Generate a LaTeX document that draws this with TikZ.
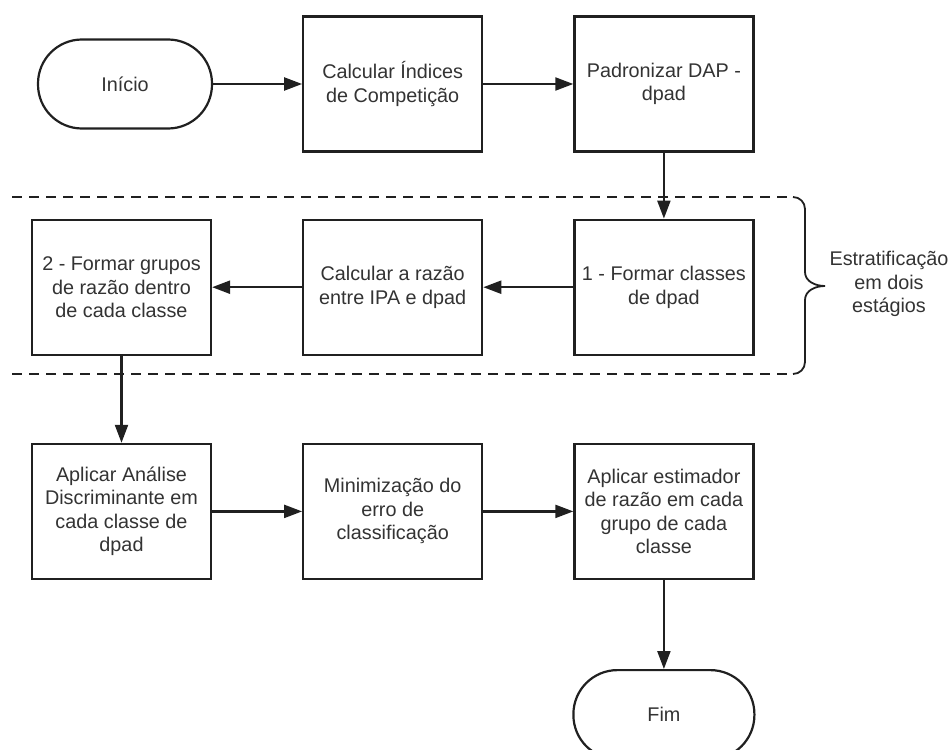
\documentclass[tikz,border=0pt]{standalone}
\usepackage{fontspec}
\setmainfont{Liberation Sans}
\usetikzlibrary{positioning, arrows.meta}
\definecolor{linecol}{HTML}{202020}
\definecolor{textcol}{HTML}{333333}

\begin{document}
\begin{tikzpicture}[x=1pt,y=1pt,>={Triangle[length=18pt,width=13pt]},
  line width=2.2pt,color=linecol,
  box/.style={rectangle,draw=linecol,fill=white,align=center,text=textcol,
    minimum width=179pt,minimum height=135pt,inner sep=2pt,
    font=\fontsize{19.8}{23.5}\selectfont},
  term/.style={box,rounded corners=44pt,minimum height=89pt}]
  \useasboundingbox (0,0) rectangle (952,-749);
  \node[term, minimum width=174pt] (inicio) at (125,-84) {Início};
  \node[box] (calc) [right=89pt of inicio] {Calcular Índices\\de Competição};
  \node[box] (pad) [right=90pt of calc] {Padronizar DAP -\\dpad};
  \node[box] (form1) [below=66pt of pad] {1 - Formar classes\\de dpad};
  \node[box] (razao) [left=90pt of form1] {Calcular a razão\\entre IPA e dpad};
  \node[box] (form2) [left=90pt of razao] {2 - Formar grupos\\de razão dentro\\de cada classe};
  \node[box] (discr) [below=87pt of form2] {Aplicar Análise\\Discriminante em\\cada classe de\\dpad};
  \node[box] (minim) [right=90pt of discr] {Minimização do\\erro de\\classificação};
  \node[box] (estim) [right=90pt of minim] {Aplicar estimador\\de razão em cada\\grupo de cada\\classe};
  \node[term, minimum width=181pt] (fim) [below=89pt of estim] {Fim};
  \node[text=textcol, align=center, font=\fontsize{19.8}{23.5}\selectfont] (estrat) at (889,-284) {Estratificação\\em dois\\estágios};
  % dashed region and brace
  \draw[line width=1.8pt, dash pattern=on 10pt off 7pt] (12,-197) -- (793,-197);
  \draw[line width=1.8pt, dash pattern=on 10pt off 7pt] (12,-374) -- (793,-374);
  \draw[line width=1.8pt] (793,-197) to[out=0,in=90] (805,-209) -- (805,-272)
    to[out=-90,in=180] (825,-286) to[out=180,in=90] (805,-300) -- (805,-362)
    to[out=-90,in=0] (793,-374);
  \path[->]
    (inicio) edge (calc)
    (calc) edge (pad)
    (pad) edge (form1)
    (form1) edge (razao)
    (razao) edge (form2)
    (form2) edge (discr)
    (discr) edge (minim)
    (minim) edge (estim)
    (estim) edge (fim);
\end{tikzpicture}
\end{document}
